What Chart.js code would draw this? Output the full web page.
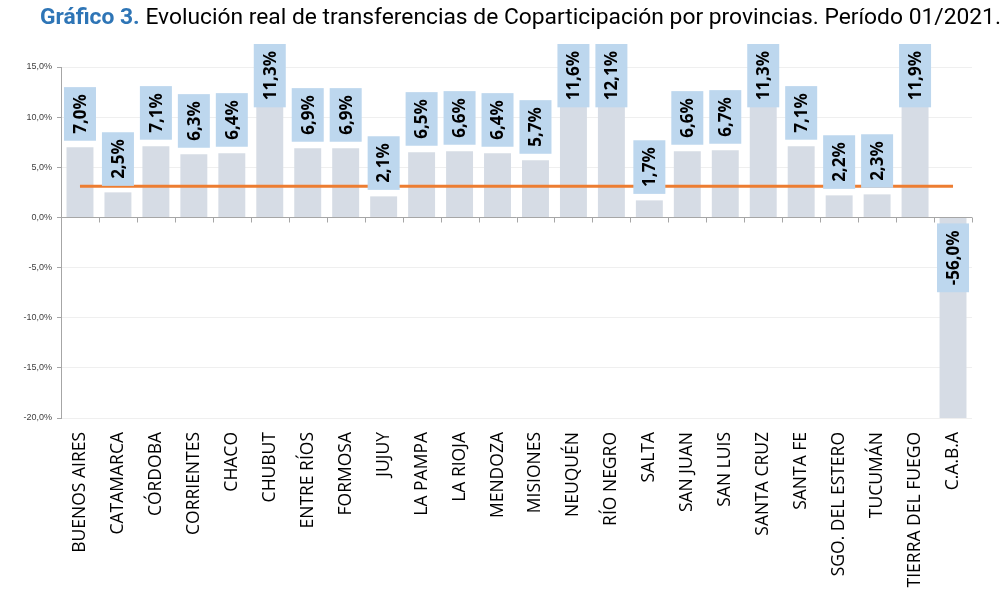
<!DOCTYPE html>
<html>
<head>
<meta charset="utf-8">
<script src="https://cdn.jsdelivr.net/npm/chart.js@4"></script>
<style>
  html,body{margin:0;padding:0;background:#fff;}
  #wrap{position:relative;width:1003px;height:596px;}
  #title{position:absolute;left:40px;top:3px;font-family:Roboto,"Noto Sans",sans-serif;font-size:22.8px;color:#000;white-space:nowrap;}
  #title b{color:#2E75B6;}
  #c{position:absolute;left:0;top:0;}
</style>
</head>
<body>
<div id="wrap">
  <canvas id="c" width="1003" height="596"></canvas>
  <div id="title"><b>Gráfico 3.</b> Evolución real de transferencias de Coparticipación por provincias. Período 01/2021.</div>
</div>
<script>
const provincias = ["BUENOS AIRES","CATAMARCA","CÓRDOBA","CORRIENTES","CHACO","CHUBUT","ENTRE RÍOS","FORMOSA","JUJUY","LA PAMPA","LA RIOJA","MENDOZA","MISIONES","NEUQUÉN","RÍO NEGRO","SALTA","SAN JUAN","SAN LUIS","SANTA CRUZ","SANTA FE","SGO. DEL ESTERO","TUCUMÁN","TIERRA DEL FUEGO","C.A.B.A"];
const valores = [7.0,2.5,7.1,6.3,6.4,11.3,6.9,6.9,2.1,6.5,6.6,6.4,5.7,11.6,12.1,1.7,6.6,6.7,11.3,7.1,2.2,2.3,11.9,-56.0];
const promedio = [3.1,3.1,3.1,3.1,3.1,3.1,3.1,3.1,3.1,3.1,3.1,3.1,3.1,3.1,3.1,3.1,3.1,3.1,3.1,3.1,3.1,3.1,3.1,3.1];
const yMin = -20, yMax = 15, yStep = 5;

function fmt(v){ return v.toFixed(1).replace('.', ',') + '%'; }

const zeroAxisPlugin = {
  id: 'zeroAxis',
  afterDatasetsDraw(chart){
    const ctx = chart.ctx, ys = chart.scales.y, xs = chart.scales.x;
    const y0 = Math.round(ys.getPixelForValue(0)) + 0.5;
    ctx.save();
    ctx.strokeStyle = '#A6A6A6';
    ctx.lineWidth = 1;
    ctx.beginPath();
    ctx.moveTo(xs.left, y0); ctx.lineTo(xs.right, y0);
    const n = provincias.length, step = (xs.right - xs.left) / n;
    for (let i = 0; i <= n; i++){
      const x = Math.round(xs.left + i * step) + 0.5;
      ctx.moveTo(x, y0); ctx.lineTo(x, y0 + 5);
    }
    ctx.stroke();
    ctx.restore();
  }
};

const labelPlugin = {
  id: 'barLabels',
  afterDraw(chart){
    const ctx = chart.ctx, meta = chart.getDatasetMeta(0), ys = chart.scales.y;
    ctx.save();
    ctx.font = 'bold 17px "Open Sans", sans-serif';
    meta.data.forEach((bar, i) => {
      const v = valores[i], txt = fmt(v);
      const tw = ctx.measureText(txt).width;
      const h = tw + 14, w = 32;
      let top;
      if (v >= 0){
        top = bar.y - 6.5 - h;
        top = Math.max(top, ys.top - 23);
      } else {
        top = ys.getPixelForValue(0) + 6;
      }
      ctx.fillStyle = '#BDD7EE';
      ctx.fillRect(bar.x - w/2, top, w, h);
      ctx.save();
      ctx.translate(bar.x, top + h/2);
      ctx.rotate(-Math.PI/2);
      ctx.fillStyle = '#000';
      ctx.textAlign = 'center';
      ctx.textBaseline = 'middle';
      ctx.fillText(txt, 0, 1);
      ctx.restore();
    });
    ctx.restore();
  }
};

new Chart(document.getElementById('c'), {
  data: {
    labels: provincias,
    datasets: [
      { type: 'bar', data: valores, backgroundColor: '#D6DCE5', barPercentage: 0.71, categoryPercentage: 1, order: 2 },
      { type: 'line', data: promedio, borderColor: '#ED7D31', borderWidth: 3, pointRadius: 0, fill: false, order: 1 }
    ]
  },
  options: {
    responsive: false,
    animation: false,
    devicePixelRatio: 1,
    layout: { padding: { top: 67, right: 31, left: 0, bottom: 0 } },
    plugins: { legend: { display: false }, tooltip: { enabled: false } },
    scales: {
      x: {
        grid: { display: false, drawTicks: false },
        border: { display: false },
        ticks: { minRotation: 90, maxRotation: 90, autoSkip: false, color: '#000', padding: 14,
                 font: { family: '"Open Sans", sans-serif', size: 17.5 } },
        afterFit(s){ s.height = 178; }
      },
      y: {
        min: yMin, max: yMax,
        border: { display: true, color: '#A6A6A6', width: 1 },
        grid: { color: '#EFEFEF', tickLength: 4, tickColor: '#A6A6A6' },
        ticks: { stepSize: yStep, color: '#404040', padding: 5,
                 font: { family: '"Liberation Sans", Arial, sans-serif', size: 9 },
                 callback: v => fmt(v) },
        afterFit(s){ s.width = 61; }
      }
    }
  },
  plugins: [zeroAxisPlugin, labelPlugin]
});
</script>
</body>
</html>
